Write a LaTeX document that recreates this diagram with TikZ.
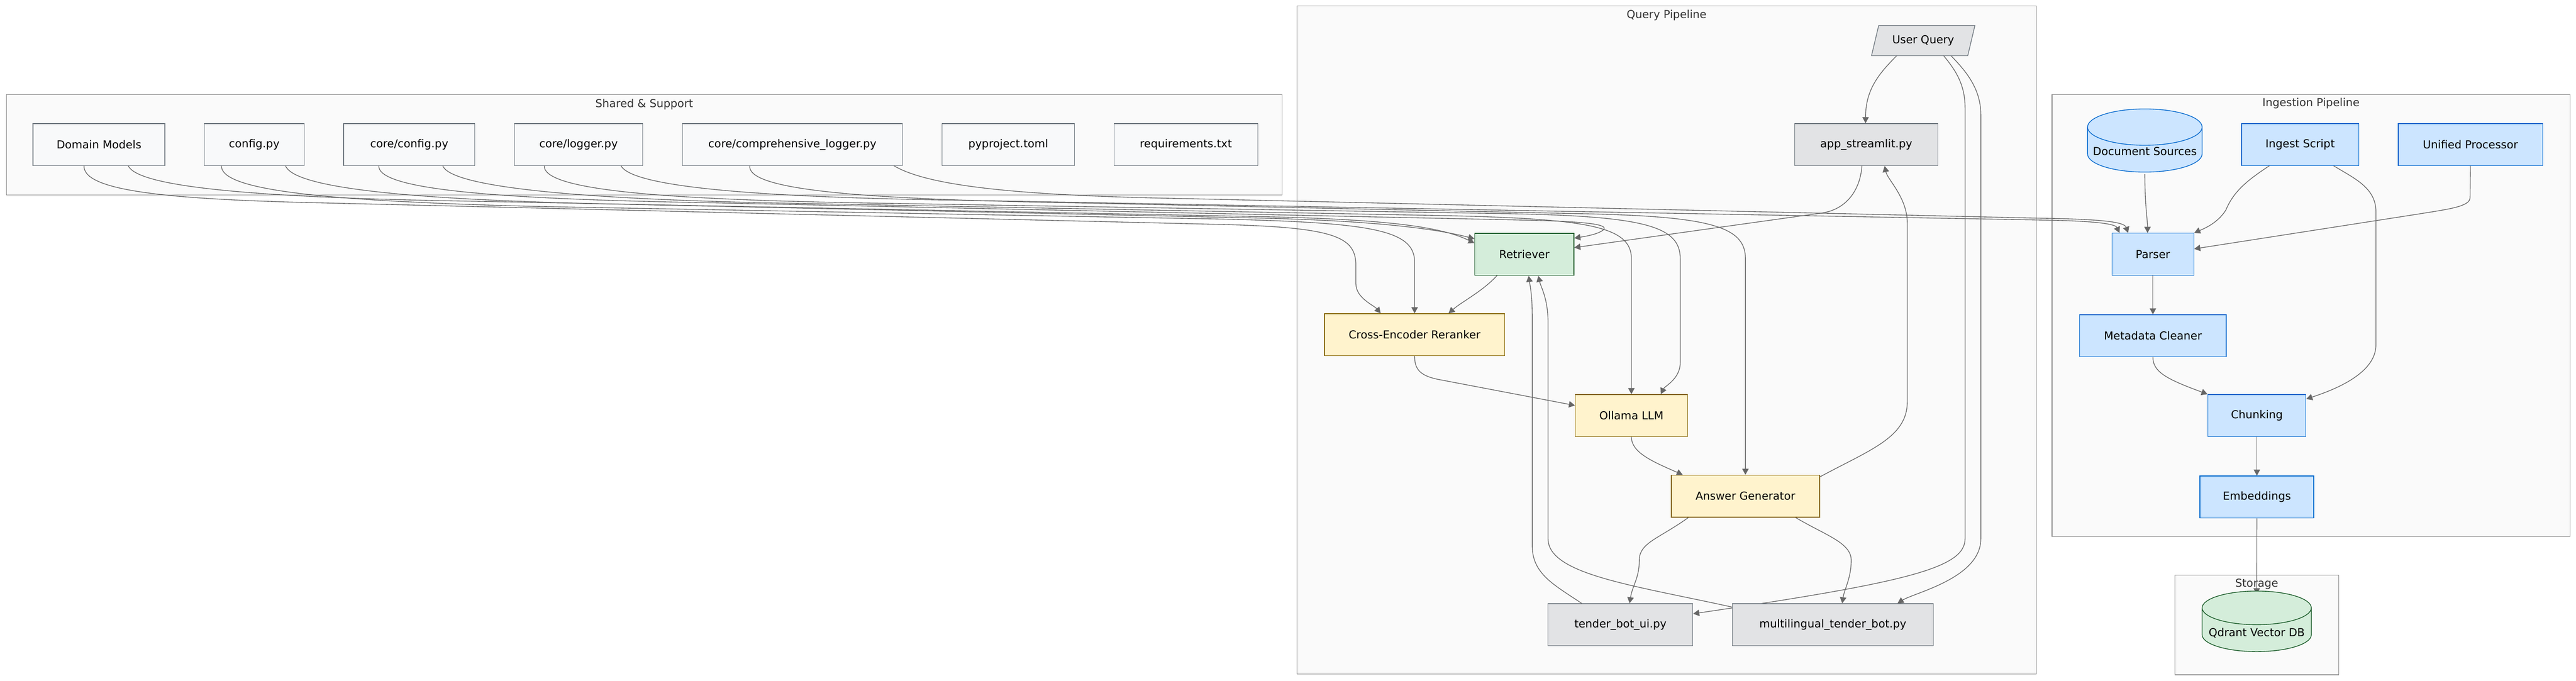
\documentclass[tikz,border=0pt]{standalone}
\usepackage{fontspec}
\setmainfont{DejaVu Sans}
\usetikzlibrary{positioning,calc,shapes.geometric,arrows.meta}

\definecolor{wiregrey}{HTML}{666666}
\definecolor{groupfill}{HTML}{FAFAFA}
\definecolor{groupline}{HTML}{888888}
\definecolor{titlegrey}{HTML}{333333}
\definecolor{supfill}{HTML}{F8F9FA}
\definecolor{supline}{HTML}{6C757D}
\definecolor{uifill}{HTML}{E2E3E5}
\definecolor{retfill}{HTML}{D4EDDA}
\definecolor{retline}{HTML}{155724}
\definecolor{genfill}{HTML}{FFF3CD}
\definecolor{genline}{HTML}{856404}
\definecolor{ingfill}{HTML}{CCE5FF}
\definecolor{ingline}{HTML}{0066CC}

\pgfdeclarelayer{groups}
\pgfdeclarelayer{wires}
\pgfsetlayers{groups,wires,main}

\begin{document}
\begin{tikzpicture}[x=1mm,y=1mm,font=\fontsize{8.7}{10.4}\selectfont,
		filebox/.style={rectangle,draw,line width=0.55pt,minimum height=11.7mm,inner sep=0pt},
		support/.style={filebox,fill=supfill,draw=supline},
		frontend/.style={filebox,fill=uifill,draw=supline},
		search/.style={filebox,fill=retfill,draw=retline},
		generate/.style={filebox,fill=genfill,draw=genline},
		ingeststep/.style={filebox,fill=ingfill,draw=ingline},
		store/.style={cylinder,shape border rotate=90,aspect=0.35,draw,line width=0.55pt,minimum height=14.2mm,inner sep=0pt},
		group/.style={fill=groupfill,draw=groupline,line width=0.5pt},
		grouptitle/.style={text=titlegrey,inner sep=0pt},
		wire/.style={draw=wiregrey,line width=0.55pt,-{Triangle[length=1.7mm,width=1.8mm]}}]
	\useasboundingbox (0,0) rectangle (717.2,-189.6);
	%
	\node[support,minimum width=36.7mm] (models) at (27.55,-40.25) {Domain Models};
	\node[support,minimum width=27.8mm,right=10.8mm of models] (cfgpy) {config.py};
	\node[support,minimum width=36.5mm,right=10.8mm of cfgpy] (corecfg) {core/config.py};
	\node[support,minimum width=35.8mm,right=10.8mm of corecfg] (corelog) {core/logger.py};
	\node[support,minimum width=61.3mm,right=10.8mm of corelog] (complog) {core/comprehensive\_logger.py};
	\node[support,minimum width=36.9mm,right=10.8mm of complog] (pyproj) {pyproject.toml};
	\node[support,minimum width=40mm,right=10.8mm of pyproj] (reqs) {requirements.txt};
	%
	\node[frontend,trapezium,trapezium left angle=64.5,trapezium right angle=115.5,trapezium stretches=true,minimum width=28.9mm,minimum height=8.4mm] (query) at (535.45,-11.3) {User Query};
	\node[frontend,minimum width=39.8mm] (app) at (519.6,-40.25) {app\_streamlit.py};
	\node[search,minimum width=27.6mm] (retr) at (424.4,-70.85) {Retriever};
	\node[generate,minimum width=50.1mm] (rerank) at (393.85,-93.2) {Cross-Encoder Reranker};
	\node[generate,minimum width=31.2mm] (llm) at (454.2,-115.7) {Ollama LLM};
	\node[generate,minimum width=41.3mm] (answer) at (485.95,-138.15) {Answer Generator};
	\node[frontend,minimum width=40.3mm] (botui) at (451.15,-173.95) {tender\_bot\_ui.py};
	\node[frontend,minimum width=56mm,right=10.8mm of botui] (multibot) {multilingual\_tender\_bot.py};
	%
	\node[store,fill=ingfill,draw=ingline,minimum width=31.9mm] (docs) at (597.15,-41.7) {\raisebox{-0.5mm}[\height][\depth]{Document Sources}};
	\node[ingeststep,minimum width=32.6mm] (script) at (640.4,-40.25) {Ingest Script};
	\node[ingeststep,minimum width=40.2mm,right=10.8mm of script] (unified) {Unified Processor};
	\node[ingeststep,minimum width=22.8mm] (parser) at (599.4,-70.8) {Parser};
	\node[ingeststep,minimum width=40.8mm,below=10.8mm of parser] (cleaner) {Metadata Cleaner};
	\node[ingeststep,minimum width=27.3mm] (chunk) at (628.35,-115.7) {Chunking};
	\node[ingeststep,minimum width=31.7mm,below=10.8mm of chunk] (embed) {Embeddings};
	\node[store,fill=retfill,draw=retline,minimum width=30.4mm] (qdrant) at (628.3,-175.4) {\raisebox{-0.8mm}[\height][\depth]{Qdrant Vector DB}};
	%
	\begin{pgfonlayer}{groups}
		\fill[white] (0,0) rectangle (717.2,-189.6);
		\draw[group] (1.8,-26.3) rectangle (357,-54.3);
		\node[grouptitle] (sharedtitle) at (179.35,-29.1) {Shared \& Support};
		\draw[group] (361.1,-1.7) rectangle (566.9,-187.7);
		\node[grouptitle] (querytitle) at (464,-4.3) {Query Pipeline};
		\draw[group] (571.3,-26.3) rectangle (715.5,-149.4);
		\node[grouptitle] (ingesttitle) at (643.4,-28.8) {Ingestion Pipeline};
		\draw[group] (605.5,-160.1) rectangle (651.1,-187.9);
		\node[grouptitle] (storetitle) at (628.3,-162.7) {Storage};
	\end{pgfonlayer}
	%
	\begin{pgfonlayer}{wires}
		% shared modules into the query and ingestion steps
		\draw[wire] ($(models.south)+(-4.15,0.3)$) .. controls (22.6,-53) and (45,-55.5) .. (90,-56.5) -- (340,-62.5) .. controls (372,-63.3) and (377.5,-66) .. (377.5,-74) -- (377.5,-79) .. controls (377.5,-83) and (382.5,-85) .. ($(rerank.north)+(-9.45,0)$);
		\draw[wire] ($(models.south)+(8.05,0.3)$) .. controls (37.5,-52) and (70,-55) .. (130,-56) -- (350,-60.3) .. controls (385,-61) and (401,-63) .. ($(retr.west)+(0,3.15)$);
		\draw[wire] ($(cfgpy.south)+(-9.1,0.3)$) .. controls (60.6,-53) and (90,-56) .. (150,-57.5) -- (340,-61) .. controls (382,-62) and (393.85,-64) .. (393.85,-73) -- (rerank.north);
		\draw[wire] ($(cfgpy.south)+(8.6,0.3)$) .. controls (81,-52) and (110,-55.5) .. (170,-56.8) -- (350,-60.7) .. controls (385,-61.5) and (401,-64) .. ($(retr.west)+(0,4.35)$);
		\draw[wire] ($(corecfg.south)+(-8.45,0.3)$) .. controls (104.2,-53) and (140,-55.5) .. (200,-56.5) -- (425,-61.3) .. controls (442,-61.7) and (448,-62.5) .. (446.4,-64) .. controls (445,-65.2) and (441.5,-65.8) .. ($(retr.east)+(0,4.55)$);
		\draw[wire] ($(corecfg.south)+(9.25,0.3)$) .. controls (124.5,-52) and (160,-55.5) .. (220,-56.6) -- (400,-60) .. controls (442,-60.8) and (454.2,-63) .. (454.2,-72) -- (llm.north);
		\draw[wire] ($(corelog.south)+(-9.5,0.3)$) .. controls (150.2,-53) and (185,-55.5) .. (240,-56.5) -- (420,-59.5) .. controls (458,-60.2) and (467.8,-63) .. (467.8,-72) -- (467.8,-101) .. controls (467.8,-105.5) and (463.5,-107.5) .. ($(llm.north)+(8.2,0)$);
		\draw[wire] ($(corelog.south)+(11.7,0.3)$) .. controls (175,-52) and (210,-55) .. (270,-55.8) -- (570,-61.3) .. controls (585,-61.6) and (589,-62.5) .. ($(parser.north)+(-9.3,0)$);
		\draw[wire] ($(complog.south)+(-11.85,0.3)$) .. controls (207.2,-53) and (240,-55.5) .. (300,-56.5) -- (440,-59.5) .. controls (476,-60.2) and (485.95,-63) .. (485.95,-72) -- (answer.north);
		\draw[wire] ($(complog.south)+(27.85,0.3)$) .. controls (258,-52) and (285,-54.5) .. (330,-55.3) -- (570,-60.8) .. controls (587,-61.1) and (591.5,-62) .. ($(parser.north)+(-6.9,0)$);
		% query pipeline
		\draw[wire] ($(query.center)+(-6.95,-3.8)$) .. controls (523,-20.5) and (519.4,-25) .. ($(app.north)+(-0.2,0)$);
		\draw[wire] ($(query.center)+(5.35,-3.8)$) .. controls (544,-19) and (547.1,-23) .. (547.1,-30) -- (547.1,-150) .. controls (547.1,-158) and (532,-162) .. ($(botui.east)+(0,3.05)$);
		\draw[wire] ($(query.center)+(7.35,-3.8)$) .. controls (546.5,-19) and (551.5,-24) .. (551.5,-32) -- (551.5,-150) .. controls (551.5,-161) and (533,-165) .. ($(multibot.north)+(18,0)$);
		\draw[wire] ($(app.south)+(-1.2,0.3)$) .. controls (518,-53) and (514,-58.3) .. (507.3,-59.3) -- ($(retr.east)+(0,1.9)$);
		\draw[wire] ($(retr.south)+(-7.4,0.3)$) .. controls (413,-81) and (407,-84) .. ($(rerank.north)+(9.45,0)$);
		\draw[wire] (rerank.south) .. controls (393.85,-102.5) and (395,-104.5) .. (400.2,-105.6) -- ($(llm.west)+(0,2.8)$);
		\draw[wire] (llm.south) .. controls (454.2,-126) and (460,-128.5) .. ($(answer.north)+(-17.45,0)$);
		\draw[wire] ($(answer.east)+(-0.3,5.2)$) .. controls (520,-125.5) and (531,-122) .. (531,-112) -- (531,-62) .. controls (531,-55) and (525.5,-50) .. ($(app.south)+(5.1,0)$);
		\draw[wire] ($(answer.south)+(-15.45,0.3)$) .. controls (462,-150) and (456.4,-151) .. (456.4,-156) .. controls (456.4,-161) and (454.5,-163) .. ($(botui.north)+(2.55,0)$);
		\draw[wire] ($(answer.south)+(13.45,0.3)$) .. controls (508,-149) and (515.4,-151) .. (515.4,-156) .. controls (515.4,-161) and (513.5,-164) .. ($(multibot.north)+(2.6,0)$);
		\draw[wire] ($(botui.north)+(-10.35,-0.3)$) .. controls (433,-163) and (426.6,-160) .. (426.6,-152) -- (426.6,-88) .. controls (426.6,-82) and (425.9,-79) .. ($(retr.south)+(1.2,0)$);
		\draw[wire] ($(multibot.west)+(0.3,4.85)$) .. controls (455,-163) and (431,-160) .. (431,-150) -- (431,-90) .. controls (431,-83) and (429,-80) .. ($(retr.south)+(3.9,0)$);
		% ingestion pipeline
		\draw[wire] ($(docs.center)+(0,-6.8)$) .. controls (597.2,-58) and (597.9,-61) .. ($(parser.north)+(-1.5,0)$);
		\draw[wire] ($(script.south)+(-8.2,0.3)$) .. controls (626,-50) and (622,-53) .. (619.7,-58.5) .. controls (617.5,-62) and (614,-63.5) .. (parser.north east);
		\draw[wire] ($(script.south)+(8.9,0.3)$) .. controls (655,-49.5) and (661.5,-52) .. (661.5,-59) -- (661.5,-96) .. controls (661.5,-104) and (650,-108.5) .. ($(chunk.east)+(0,4.6)$);
		\draw[wire] (unified.south) -- (687.7,-55) .. controls (687.7,-57.5) and (682,-58.2) .. (673.3,-59.6) -- ($(parser.east)+(0,1.5)$);
		\draw[wire] (parser.south) -- (cleaner.north);
		\draw[wire] (cleaner.south) .. controls (599.4,-103.5) and (603,-105.5) .. (chunk.north west);
		\draw[wire] (chunk.south) -- (embed.north);
		\draw[wire] (embed.south) -- ($(qdrant.center)+(0,9.9)$);
	\end{pgfonlayer}
\end{tikzpicture}
\end{document}
